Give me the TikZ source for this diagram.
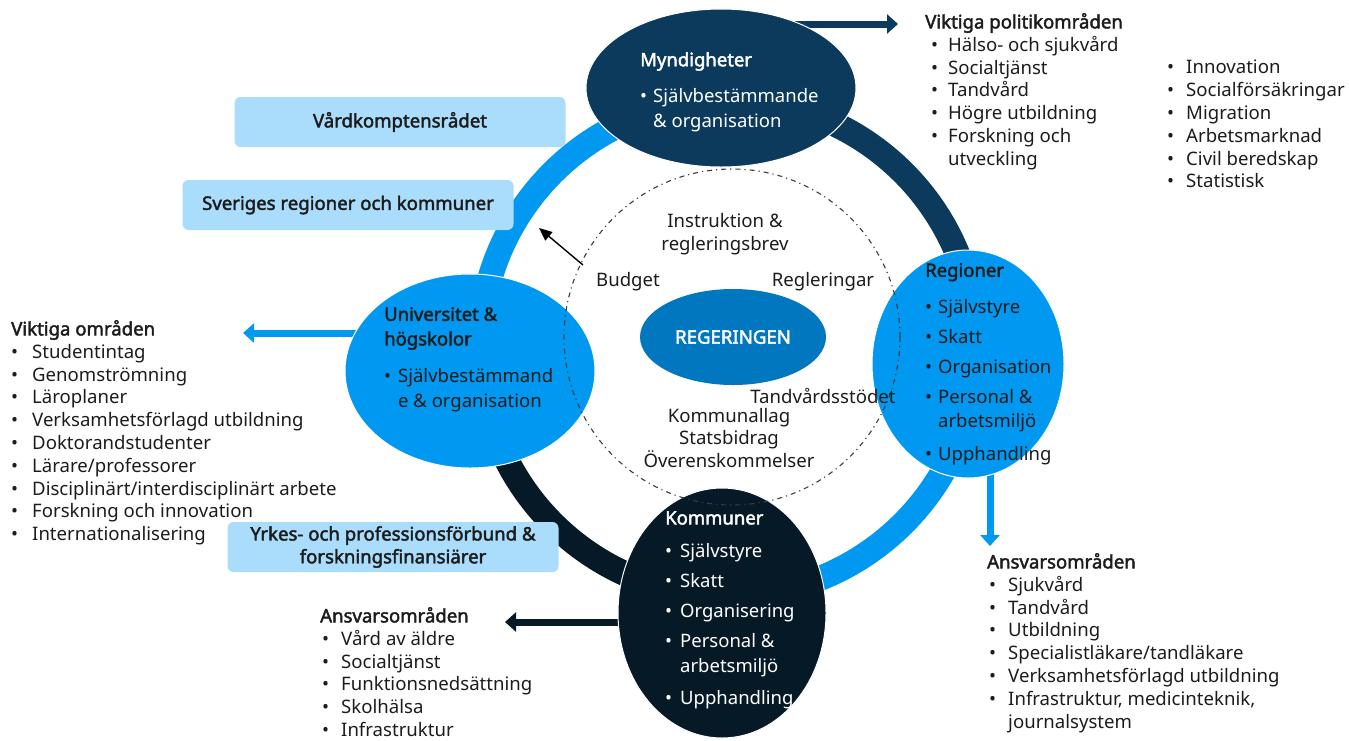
\documentclass[tikz,border=0pt]{standalone}
\usepackage{fontspec}
\setmainfont{Noto Sans}[BoldFont={Noto Sans}, BoldFeatures={FakeBold=2.2}]
\usepackage{tikz}
\usetikzlibrary{
  shapes.geometric,
  arrows.meta,
  calc,
  backgrounds
}
\definecolor{navycolor}{RGB}{11, 58, 92}
\definecolor{nightcolor}{RGB}{6, 25, 38}
\definecolor{brightcolor}{RGB}{0, 152, 240}
\definecolor{govcolor}{RGB}{0, 119, 190}
\definecolor{boxcolor}{RGB}{170, 221, 251}
\definecolor{labelcolor}{RGB}{28, 28, 28}
\definecolor{dashcolor}{RGB}{60, 60, 60}
\newcommand{\listfont}{\fontsize{18.6}{22.8}\selectfont}
\newcommand{\ovalfont}{\fontsize{18.5}{24.5}\selectfont}
\newcommand{\bpunkt}[2][16pt]{\makebox[#1][l]{•}#2}
\tikzset{
listtext/.style={
  anchor=north west,
  inner sep=0pt,
  align=left,
  font=\listfont,
  text=labelcolor
},
ovaltext/.style={
  anchor=north west,
  inner sep=0pt,
  align=left,
  font=\ovalfont
},
orgoval/.style={
  ellipse,
  inner sep=0pt,
  draw=white,
  line width=1pt
},
infobox/.style={
  rounded corners=6pt,
  fill=boxcolor,
  inner sep=0pt,
  minimum width=331pt,
  minimum height=50pt,
  align=center,
  font=\bfseries\listfont,
  text=labelcolor
},
midtext/.style={
  align=center,
  inner sep=0pt,
  font=\listfont,
  text=labelcolor
},
bigarrow/.style={
  -{Triangle[length=11pt,width=19pt]},
  line width=7pt
},
thinarrow/.style={
  -{Triangle[length=13pt,width=11pt]},
  line width=1.4pt,
  draw=black
},
ringarc/.style={
  line width=25pt
},
dashcircle/.style={
  draw=dashcolor,
  line width=1.1pt,
  dash pattern=on 5pt off 4pt on 1.2pt off 4pt
}
}

\begin{document}
\begin{tikzpicture}[x=1pt, y=-1pt]
\useasboundingbox (0,0) rectangle (1349,740);

% ============================================================================
% Organisationer (ovaler)
% ============================================================================

% Myndigheter
\node[orgoval, fill=navycolor, minimum width=270pt, minimum height=158pt] (myn) at (721,88) {};
% Universitet
\node[orgoval, fill=brightcolor, minimum width=250pt, minimum height=194pt] (univ) at (470,371) {};
% Regioner
\node[orgoval, fill=brightcolor, minimum width=192pt, minimum height=228pt] (reg) at (968,364) {};
% Kommuner
\node[orgoval, fill=nightcolor, minimum width=208pt, minimum height=250pt] (kom) at (722,613) {};

% ============================================================================
% Ring och pilar (bakom ovalerna)
% ============================================================================

\coordinate (ringc) at (728,348);
\coordinate (politikpil) at (898,24);
\coordinate (univpil) at (243,333);
\coordinate (regpil) at (990,546);
\coordinate (kompil) at (505,622);

\begin{scope}[on background layer]
\draw[ringarc, brightcolor] ($(ringc)+(180:248)$) arc[start angle=180, end angle=270, radius=248];
\draw[ringarc, navycolor] ($(ringc)+(270:248)$) arc[start angle=270, end angle=360, radius=248];
\draw[ringarc, brightcolor] ($(ringc)+(0:248)$) arc[start angle=0, end angle=90, radius=248];
\draw[ringarc, nightcolor] ($(ringc)+(90:248)$) arc[start angle=90, end angle=180, radius=248];

\draw[bigarrow, navycolor] (politikpil -| myn.center) -- (politikpil);
\draw[bigarrow, brightcolor] (univpil -| univ.center) -- (univpil);
\draw[bigarrow, brightcolor] (regpil |- reg.center) -- (regpil);
\draw[bigarrow, nightcolor] (kompil -| kom.center) -- (kompil);
\end{scope}

% ============================================================================
% Text i ovalerna
% ============================================================================

\node[ovaltext, text=white] (myntext) at (640,52) {%
  \textbf{Myndigheter}\\[12pt]
  \bpunkt[13pt]{Självbestämmande}\\
  \hspace*{13pt}\& organisation};

\node[ovaltext, text=labelcolor] (univtext) at (384,307) {%
  \textbf{Universitet \&}\\
  \textbf{högskolor}\\[13pt]
  \bpunkt[14pt]{Självbestämmand}\\
  \hspace*{14pt}e \& organisation};

\node[ovaltext, text=labelcolor] (regtext) at (925,263) {%
  \textbf{Regioner}\\[12pt]
  \bpunkt[13pt]{Självstyre}\\[5.5pt]
  \bpunkt[13pt]{Skatt}\\[5.5pt]
  \bpunkt[13pt]{Organisation}\\[5.5pt]
  \bpunkt[13pt]{Personal \&}\\
  \hspace*{13pt}arbetsmiljö\\[8pt]
  \bpunkt[13pt]{Upphandling}};

\node[ovaltext, text=white] (komtext) at (665,511) {%
  \textbf{Kommuner}\\[9pt]
  \bpunkt[15pt]{Självstyre}\\[5.5pt]
  \bpunkt[15pt]{Skatt}\\[5.5pt]
  \bpunkt[15pt]{Organisering}\\[5.5pt]
  \bpunkt[15pt]{Personal \&}\\
  \hspace*{15pt}arbetsmiljö\\[8pt]
  \bpunkt[15pt]{Upphandling}};

% ============================================================================
% Regeringen i mitten
% ============================================================================

\draw[dashcircle] (732,337) circle[radius=168];

\node[ellipse, inner sep=0pt, fill=govcolor, minimum width=186pt, minimum height=96pt,
  font=\bfseries\listfont, text=white] (gov) at (733,337) {REGERINGEN};

\node[midtext] (instr) at (725,234) {Instruktion \&\\regleringsbrev};
\node[midtext] (budget) at (628,282) {Budget};
\node[midtext] (regler) at (823,282) {Regleringar};
\node[midtext] (tandstod) at (823,396) {Tandvårdsstödet};
\node[midtext] (lagar) at (729,438) {Kommunallag\\Statsbidrag\\Överenskommelser};

\coordinate (budgetstart) at (583,265);
\coordinate (srkpil) at (539,228);
\draw[thinarrow] (budgetstart) -- (srkpil);

% ============================================================================
% Samverkansparter (rutor)
% ============================================================================

\node[infobox] (vkr) at (400,122) {Vårdkomptensrådet};
\node[infobox] (skr) at (348,205) {Sveriges regioner och kommuner};
\node[infobox] (yrkes) at (393,547) {Yrkes- och professionsförbund \&\\forskningsfinansiärer};

% ============================================================================
% Listor
% ============================================================================

\node[listtext] (politik) at (925,13) {%
  \textbf{Viktiga politikområden}\\
  \hspace*{6pt}\bpunkt[17pt]{Hälso- och sjukvård}\\
  \hspace*{6pt}\bpunkt[17pt]{Socialtjänst}\\
  \hspace*{6pt}\bpunkt[17pt]{Tandvård}\\
  \hspace*{6pt}\bpunkt[17pt]{Högre utbildning}\\
  \hspace*{6pt}\bpunkt[17pt]{Forskning och}\\
  \hspace*{23pt}utveckling};

\node[listtext] (politik2) at (1167,60) {%
  \bpunkt[19pt]{Innovation}\\
  \bpunkt[19pt]{Socialförsäkringar}\\
  \bpunkt[19pt]{Migration}\\
  \bpunkt[19pt]{Arbetsmarknad}\\
  \bpunkt[19pt]{Civil beredskap}\\
  \bpunkt[19pt]{Statistisk}};

\node[listtext] (univlista) at (11,320) {%
  \textbf{Viktiga områden}\\
  \bpunkt[21pt]{Studentintag}\\
  \bpunkt[21pt]{Genomströmning}\\
  \bpunkt[21pt]{Läroplaner}\\
  \bpunkt[21pt]{Verksamhetsförlagd utbildning}\\
  \bpunkt[21pt]{Doktorandstudenter}\\
  \bpunkt[21pt]{Lärare/professorer}\\
  \bpunkt[21pt]{Disciplinärt/interdisciplinärt arbete}\\
  \bpunkt[21pt]{Forskning och innovation}\\
  \bpunkt[21pt]{Internationalisering}};

\node[listtext] (komlista) at (320,607) {%
  \textbf{Ansvarsområden}\\
  \hspace*{2pt}\bpunkt[19pt]{Vård av äldre}\\
  \hspace*{2pt}\bpunkt[19pt]{Socialtjänst}\\
  \hspace*{2pt}\bpunkt[19pt]{Funktionsnedsättning}\\
  \hspace*{2pt}\bpunkt[19pt]{Skolhälsa}\\
  \hspace*{2pt}\bpunkt[19pt]{Infrastruktur}};

\node[listtext] (reglista) at (987,553) {%
  \textbf{Ansvarsområden}\\
  \hspace*{2pt}\bpunkt[19pt]{Sjukvård}\\
  \hspace*{2pt}\bpunkt[19pt]{Tandvård}\\
  \hspace*{2pt}\bpunkt[19pt]{Utbildning}\\
  \hspace*{2pt}\bpunkt[19pt]{Specialistläkare/tandläkare}\\
  \hspace*{2pt}\bpunkt[19pt]{Verksamhetsförlagd utbildning}\\
  \hspace*{2pt}\bpunkt[19pt]{Infrastruktur, medicinteknik,}\\
  \hspace*{21pt}journalsystem};

\end{tikzpicture}
\end{document}
